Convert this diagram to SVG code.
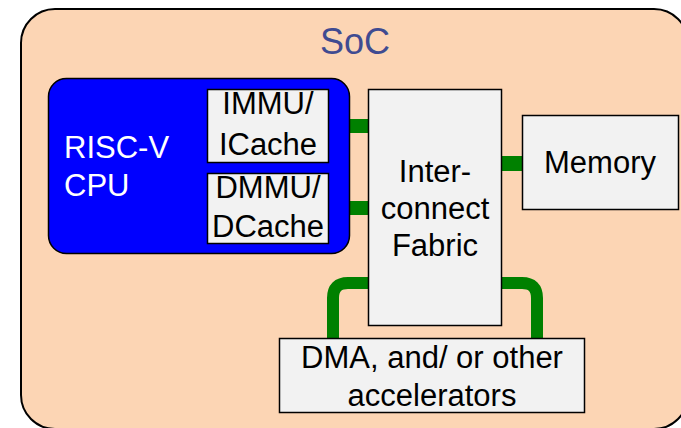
<svg xmlns="http://www.w3.org/2000/svg" width="681" height="428" viewBox="0 0 681 428">
<style>
.box{fill:#f2f2f2;stroke:#000;stroke-width:1.5}
.t{font-family:"Liberation Sans",Arial,sans-serif;font-size:31px;fill:#000;text-anchor:middle}
.w{fill:#fff;text-anchor:start}
.g{fill:none;stroke:#008000;stroke-width:12}
</style>
<g id="soc">
<rect x="21" y="9" width="667" height="420" rx="34" fill="#fcd5b4" stroke="#000" stroke-width="2"/>
<text x="355" y="54" class="t" style="fill:#3f4b91;font-size:36px">SoC</text>
</g>
<g id="connectors">
<rect x="348" y="119" width="21" height="14" fill="#008000"/>
<rect x="348" y="201" width="21" height="14" fill="#008000"/>
<rect x="501" y="156" width="22" height="15" fill="#008000"/>
<path class="g" d="M368 283 H348 Q333 283 333 298 V338"/>
<path class="g" d="M502 283 H522 Q537 283 537 298 V338"/>
</g>
<g id="cpu">
<rect x="48.5" y="78.5" width="301" height="175" rx="18" fill="#0000ff" stroke="#000" stroke-width="1.5"/>
<text x="64" y="158" class="t w" style="fill:#fff">RISC-V</text>
<text x="64" y="196" class="t w" style="fill:#fff">CPU</text>
</g>
<g id="immu">
<rect x="207.5" y="89.5" width="121" height="73" class="box"/>
<text x="268" y="114" class="t">IMMU/</text>
<text x="268" y="155" class="t">ICache</text>
</g>
<g id="dmmu">
<rect x="207.5" y="173.5" width="121" height="70" class="box"/>
<text x="268" y="198" class="t">DMMU/</text>
<text x="268" y="237" class="t">DCache</text>
</g>
<g id="interconnect">
<rect x="368.5" y="89.5" width="133" height="236" class="box"/>
<text x="435" y="182" class="t">Inter-</text>
<text x="435" y="219" class="t">connect</text>
<text x="435" y="256" class="t">Fabric</text>
</g>
<g id="memory">
<rect x="522.5" y="115.5" width="156" height="94" class="box"/>
<text x="600" y="173" class="t">Memory</text>
</g>
<g id="dma">
<rect x="279.5" y="338.5" width="305" height="74" class="box"/>
<text x="432" y="368" class="t">DMA, and/ or other</text>
<text x="432" y="406" class="t">accelerators</text>
</g>
</svg>
